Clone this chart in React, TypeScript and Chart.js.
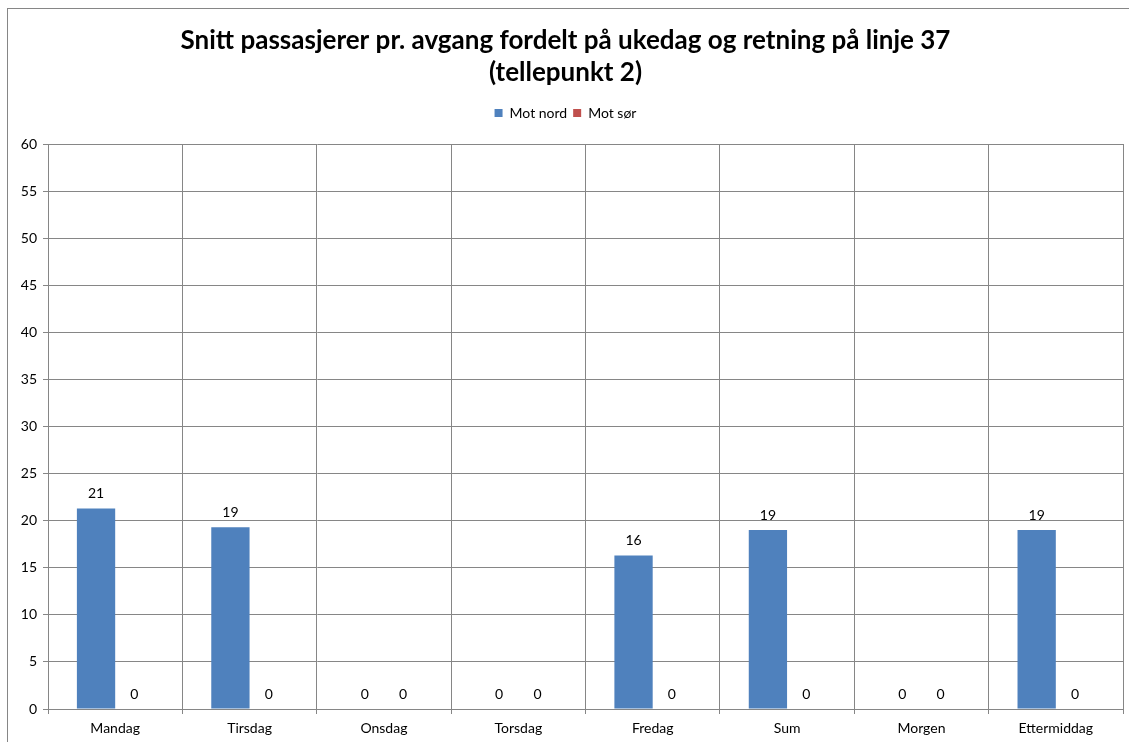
import React, { useEffect, useRef } from "react";
import { Chart, registerables } from "chart.js";

Chart.register(...registerables);

const categories = ["Mandag", "Tirsdag", "Onsdag", "Torsdag", "Fredag", "Sum", "Morgen", "Ettermiddag"];
const motNord = [21.3, 19.3, 0, 0, 16.3, 19.0, 0, 19.0];
const motSor = [0, 0, 0, 0, 0, 0, 0, 0];
const seriesNames = ["Mot nord", "Mot sør"];
const titleLines = ["Snitt passasjerer pr. avgang fordelt på ukedag og retning på linje 37", "(tellepunkt 2)"];

const FONT = "Lato, 'Open Sans', sans-serif";
const GRID = "#868686";

const valueLabels = {
  id: "valueLabels",
  afterDatasetsDraw(chart: any) {
    const ctx = chart.ctx;
    ctx.save();
    ctx.font = `14px ${FONT}`;
    ctx.fillStyle = "#000";
    ctx.textAlign = "center";
    ctx.textBaseline = "bottom";
    chart.data.datasets.forEach((ds: any, i: number) => {
      const meta = chart.getDatasetMeta(i);
      meta.data.forEach((bar: any, j: number) => {
        const v = ds.data[j];
        ctx.fillText(String(Math.round(v)), bar.x, bar.y - 8);
      });
    });
    ctx.restore();
  },
};

const legendSpacing = {
  id: "legendSpacing",
  beforeInit(chart: any) {
    const legend = chart.legend;
    if (!legend) return;
    const orig = legend.fit;
    legend.fit = function () {
      orig.call(this);
      this.height += 14;
    };
  },
};

export default function App() {
  const ref = useRef<HTMLCanvasElement>(null);
  useEffect(() => {
    const chart = new Chart(ref.current!, {
      type: "bar",
      data: {
        labels: categories,
        datasets: [
          { label: seriesNames[0], data: motNord, backgroundColor: "#4F81BD", borderWidth: 0, categoryPercentage: 0.57, barPercentage: 1 },
          { label: seriesNames[1], data: motSor, backgroundColor: "#C0504D", borderWidth: 0, categoryPercentage: 0.57, barPercentage: 1 },
        ],
      },
      options: {
        responsive: false,
        animation: false,
        layout: { padding: { left: 0, right: 6, top: 0, bottom: 0 } },
        plugins: {
          title: {
            display: true,
            text: titleLines,
            font: { family: FONT, size: 26, weight: "bold", lineHeight: 1.25 },
            color: "#000",
            padding: { top: 15, bottom: 11 },
          },
          legend: {
            display: true,
            labels: {
              boxWidth: 8,
              boxHeight: 8,
              padding: 6,
              font: { family: FONT, size: 14 },
              color: "#000",
            },
          },
          tooltip: { enabled: false },
        },
        scales: {
          x: {
            grid: { color: GRID, offset: true, tickLength: 5, drawTicks: true },
            border: { color: GRID },
            ticks: { font: { family: FONT, size: 14 }, color: "#000", padding: 6 },
            afterFit(scale: any) { scale.height = 33; },
          },
          y: {
            min: 0,
            max: 60,
            ticks: { stepSize: 5, font: { family: FONT, size: 14 }, color: "#000", padding: 6 },
            grid: { color: GRID, tickLength: 5 },
            border: { color: GRID },
            afterFit(scale: any) { scale.width = 40; },
          },
        },
      },
      plugins: [valueLabels, legendSpacing],
    } as any);
    return () => chart.destroy();
  }, []);
  return (
    <div
      style={{
        position: "fixed",
        left: 7,
        top: 8,
        width: 1122,
        height: 734,
        borderLeft: "1px solid #868686",
        borderTop: "1px solid #868686",
        boxSizing: "border-box",
        background: "#fff",
      }}
    >
      <canvas ref={ref} width={1121} height={733} style={{ display: "block" }} />
    </div>
  );
}
